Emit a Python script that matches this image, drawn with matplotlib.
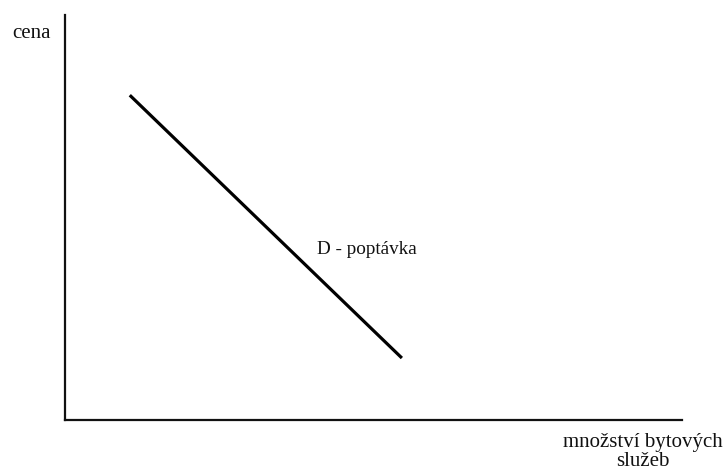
import matplotlib
matplotlib.use("Agg")
import matplotlib.pyplot as plt

quantity = [1.05, 5.46]
price = [8.02, 1.53]
curve_label = "D - poptávka"
y_label = "cena"
x_label_lines = ["množství bytových", "služeb"]

W, H = 726, 470
fig = plt.figure(figsize=(W / 100, H / 100), dpi=100)
left, right, bottom, top = 65, 682, 420, 15
ax = fig.add_axes([left / W, 1 - bottom / H, (right - left) / W, (bottom - top) / H])
ax.set_xlim(0, 10)
ax.set_ylim(0, 10)
ax.plot(quantity, price, color="black", lw=2.3, solid_capstyle="butt")
for s in ("top", "right"):
    ax.spines[s].set_visible(False)
for s in ("left", "bottom"):
    ax.spines[s].set_linewidth(1.6)
    ax.spines[s].set_color("#111111")
ax.set_xticks([])
ax.set_yticks([])

font = dict(family="Liberation Serif", color="#111111")
fig.text(12 / W, 1 - 34 / H, y_label, ha="left", va="center", fontsize=15, **font)
ax.text(4.09, 4.2, curve_label, ha="left", va="center", fontsize=13.8, **font)
fig.text(643 / W, 1 - 443 / H, x_label_lines[0], ha="center", va="center", fontsize=15, **font)
fig.text(643 / W, 1 - 462 / H, x_label_lines[1], ha="center", va="center", fontsize=15, **font)

fig.savefig("out.png", dpi=100)
